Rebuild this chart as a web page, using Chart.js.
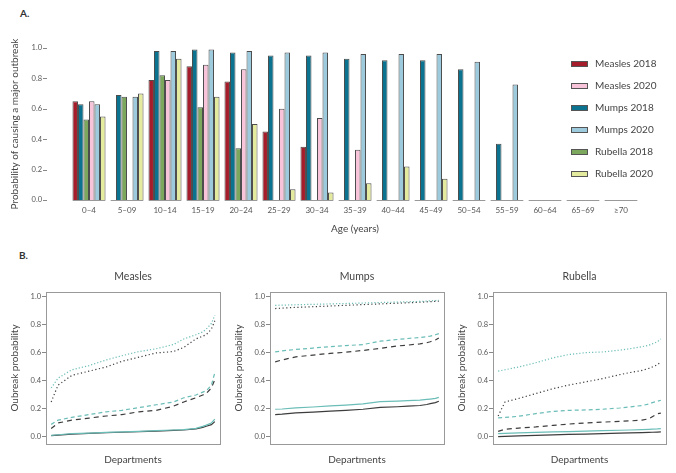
<!DOCTYPE html>
<html>
<head>
<meta charset="utf-8">
<script src="https://cdn.jsdelivr.net/npm/chart.js@4.4.1/dist/chart.umd.min.js"></script>
<style>
  body { margin: 0; background: #fff; width: 676px; height: 473px; position: relative; overflow: hidden; font-family: Lato, sans-serif; }
  .panel { position: absolute; }
  .tag { position: absolute; font: bold 10px Lato, sans-serif; color: #333; }
</style>
</head>
<body>
<div class="tag" style="left:20px;top:7px">A.</div>
<div class="tag" style="left:19px;top:249px">B.</div>
<canvas class="panel" id="age-chart" width="676" height="240" style="left:0;top:0"></canvas>
<canvas class="panel" id="measles-chart" width="230" height="223" style="left:0;top:250px"></canvas>
<canvas class="panel" id="mumps-chart" width="230" height="223" style="left:224px;top:250px"></canvas>
<canvas class="panel" id="rubella-chart" width="229" height="223" style="left:447px;top:250px"></canvas>
<script>
// ---- panel A: probability by age group ----
const ageGroups = ['0–4','5–09','10–14','15–19','20–24','25–29','30–34','35–39','40–44','45–49','50–54','55–59','60–64','65–69','≥70'];
const measles2018 = [0.65, 0, 0.79, 0.88, 0.78, 0.45, 0.35, 0, 0, 0, 0, 0, 0, 0, 0];
const mumps2018   = [0.63, 0.69, 0.98, 0.99, 0.97, 0.95, 0.95, 0.93, 0.92, 0.92, 0.86, 0.37, 0, 0, 0];
const rubella2018 = [0.53, 0.68, 0.82, 0.61, 0.34, 0, 0, 0, 0, 0, 0, 0, 0, 0, 0];
const measles2020 = [0.65, 0, 0.79, 0.89, 0.86, 0.60, 0.54, 0.33, 0, 0, 0, 0, 0, 0, 0];
const mumps2020   = [0.63, 0.68, 0.98, 0.99, 0.98, 0.97, 0.97, 0.96, 0.96, 0.96, 0.91, 0.76, 0, 0, 0];
const rubella2020 = [0.55, 0.70, 0.93, 0.68, 0.50, 0.07, 0.05, 0.11, 0.22, 0.14, 0, 0, 0, 0, 0];
const probTicks = [0, 0.2, 0.4, 0.6, 0.8, 1.0];

// ---- panel B: departments sorted by outbreak probability ----
const deptRank = [1, 5, 13, 23, 33, 42, 52, 62, 72, 78, 85, 89, 91, 94, 96];

const measlesTealDot  = [0.35, 0.42, 0.48, 0.51, 0.55, 0.58, 0.61, 0.63, 0.66, 0.70, 0.73, 0.75, 0.77, 0.81, 0.87];
const measlesDarkDot  = [0.25, 0.37, 0.44, 0.47, 0.50, 0.54, 0.57, 0.60, 0.61, 0.64, 0.70, 0.72, 0.73, 0.77, 0.83];
const measlesTealDash = [0.09, 0.12, 0.14, 0.16, 0.18, 0.19, 0.21, 0.23, 0.25, 0.28, 0.30, 0.32, 0.33, 0.37, 0.46];
const measlesDarkDash = [0.06, 0.10, 0.12, 0.135, 0.15, 0.16, 0.18, 0.19, 0.22, 0.25, 0.28, 0.30, 0.31, 0.35, 0.41];
const measlesTeal     = [0.012, 0.016, 0.024, 0.028, 0.033, 0.036, 0.04, 0.045, 0.05, 0.053, 0.062, 0.076, 0.085, 0.10, 0.128];
const measlesDark     = [0.01, 0.014, 0.021, 0.026, 0.031, 0.034, 0.038, 0.042, 0.047, 0.05, 0.058, 0.069, 0.077, 0.088, 0.11];

const mumpsTealDot  = [0.94, 0.941, 0.944, 0.947, 0.95, 0.953, 0.956, 0.96, 0.963, 0.965, 0.968, 0.97, 0.972, 0.974, 0.976];
const mumpsDarkDot  = [0.917, 0.92, 0.925, 0.93, 0.935, 0.94, 0.945, 0.95, 0.955, 0.958, 0.962, 0.965, 0.966, 0.968, 0.97];
const mumpsTealDash = [0.607, 0.615, 0.625, 0.635, 0.645, 0.652, 0.66, 0.684, 0.696, 0.703, 0.71, 0.716, 0.72, 0.73, 0.738];
const mumpsDarkDash = [0.536, 0.55, 0.572, 0.585, 0.597, 0.605, 0.618, 0.632, 0.65, 0.656, 0.665, 0.673, 0.68, 0.692, 0.707];
const mumpsTeal     = [0.198, 0.20, 0.208, 0.214, 0.222, 0.228, 0.236, 0.252, 0.256, 0.259, 0.263, 0.268, 0.271, 0.276, 0.283];
const mumpsDark     = [0.16, 0.163, 0.172, 0.178, 0.184, 0.19, 0.198, 0.212, 0.216, 0.22, 0.225, 0.232, 0.238, 0.245, 0.255];

const rubellaTealDot  = [0.47, 0.48, 0.50, 0.53, 0.565, 0.588, 0.602, 0.607, 0.62, 0.63, 0.645, 0.655, 0.665, 0.68, 0.70];
const rubellaDarkDot  = [0.15, 0.25, 0.275, 0.31, 0.345, 0.37, 0.393, 0.417, 0.445, 0.46, 0.475, 0.49, 0.50, 0.515, 0.536];
const rubellaTealDash = [0.136, 0.14, 0.148, 0.167, 0.183, 0.19, 0.193, 0.198, 0.207, 0.215, 0.225, 0.235, 0.245, 0.255, 0.262];
const rubellaDarkDash = [0.04, 0.055, 0.064, 0.072, 0.083, 0.092, 0.10, 0.106, 0.112, 0.115, 0.12, 0.13, 0.145, 0.167, 0.17];
const rubellaTeal     = [0.024, 0.026, 0.03, 0.033, 0.036, 0.039, 0.042, 0.045, 0.048, 0.05, 0.053, 0.055, 0.056, 0.058, 0.06];
const rubellaDark     = [0.003, 0.005, 0.008, 0.012, 0.015, 0.018, 0.021, 0.024, 0.027, 0.029, 0.031, 0.033, 0.034, 0.035, 0.036];

const textCol = '#555';
const tealCol = '#6bbdb7';
const darkCol = '#3d3d3d';
const fmt = v => Number(v).toFixed(1);

// short baseline under each age group instead of one long x axis
const groupBaselines = {
    id: 'groupBaselines',
    beforeDatasetsDraw(chart) {
        const {ctx, scales: {x, y}} = chart;
        const half = (x.right - x.left) / x.ticks.length * 0.43;
        const yy = Math.round(y.getPixelForValue(0)) + 0.5;
        ctx.save();
        ctx.strokeStyle = '#999';
        ctx.lineWidth = 1;
        x.ticks.forEach((t, i) => {
            const cx = x.getPixelForValue(i);
            ctx.beginPath();
            ctx.moveTo(cx - half, yy);
            ctx.lineTo(cx + half, yy);
            ctx.stroke();
        });
        ctx.restore();
    }
};

// little tick marks just right of the y labels
const yTickMarks = {
    id: 'yTickMarks',
    afterDraw(chart) {
        const {ctx, scales: {y}, chartArea} = chart;
        const x0 = chartArea.left - 27;
        ctx.save();
        ctx.strokeStyle = '#888';
        ctx.lineWidth = 1;
        y.ticks.forEach(t => {
            const yy = Math.round(y.getPixelForValue(t.value)) + 0.5;
            ctx.beginPath();
            ctx.moveTo(x0, yy);
            ctx.lineTo(x0 + 4, yy);
            ctx.stroke();
        });
        ctx.restore();
    }
};

const legendOrder = [0, 3, 1, 4, 2, 5];
const insideLegend = {
    id: 'insideLegend',
    afterDraw(chart) {
        const {ctx} = chart;
        ctx.save();
        ctx.font = '10px Lato, sans-serif';
        ctx.textBaseline = 'middle';
        legendOrder.forEach((di, row) => {
            const ds = chart.data.datasets[di];
            const yy = 64 + row * 22;
            ctx.fillStyle = ds.backgroundColor;
            ctx.fillRect(571.5, yy - 2.5, 16, 5);
            ctx.strokeStyle = '#555';
            ctx.lineWidth = 1;
            ctx.strokeRect(571.5, yy - 2.5, 16, 5);
            ctx.fillStyle = '#444';
            ctx.fillText(ds.label, 595, yy);
        });
        ctx.restore();
    }
};

function barSet(label, data, color) {
    return { label, data, backgroundColor: color, borderColor: '#4d4d4d', borderWidth: 1 };
}

new Chart(document.getElementById('age-chart'), {
    type: 'bar',
    data: {
        labels: ageGroups,
        datasets: [
            barSet('Measles 2018', measles2018, '#a51d2b'),
            barSet('Mumps 2018', mumps2018, '#0b7290'),
            barSet('Rubella 2018', rubella2018, '#7ba85c'),
            barSet('Measles 2020', measles2020, '#f7c4d9'),
            barSet('Mumps 2020', mumps2020, '#9ecadd'),
            barSet('Rubella 2020', rubella2020, '#e4eb9f'),
        ]
    },
    options: {
        responsive: false,
        animation: false,
        layout: { padding: { top: 48, right: 36, left: 0, bottom: 0 } },
        datasets: { bar: { categoryPercentage: 0.87, barPercentage: 1 } },
        plugins: { legend: { display: false }, tooltip: { enabled: false } },
        scales: {
            x: {
                grid: { display: false, drawTicks: false },
                border: { display: false },
                ticks: { color: textCol, font: { size: 8, family: 'Lato' }, padding: 6, maxRotation: 0, autoSkip: false },
                title: { display: true, text: 'Age (years)', color: '#444', font: { size: 10, family: 'Lato' }, padding: { top: 0, bottom: 5 } },
                afterFit(s) { s.height = 40; }
            },
            y: {
                min: 0, max: 1,
                grid: { display: false, drawTicks: false },
                border: { display: false },
                afterBuildTicks(s) { s.ticks = probTicks.map(v => ({ value: v })); },
                ticks: { color: textCol, font: { size: 7.5, family: 'Lato' }, padding: 28, callback: fmt },
                title: { display: true, text: 'Probability of causing a major outbreak', color: '#444', font: { size: 10, family: 'Lato' }, padding: { top: 9, bottom: 0 } },
                afterFit(s) { s.width = 70; }
            }
        }
    },
    plugins: [groupBaselines, yTickMarks, insideLegend]
});

// ---- panel B ----
const frameBox = {
    id: 'frameBox',
    afterDraw(chart) {
        const {ctx, chartArea: a} = chart;
        ctx.save();
        ctx.strokeStyle = '#999';
        ctx.lineWidth = 1;
        ctx.strokeRect(Math.round(a.left) + 0.5, Math.round(a.top) + 0.5, Math.round(a.right - a.left), Math.round(a.bottom - a.top));
        ctx.restore();
    }
};

const panelTitle = {
    id: 'panelTitle',
    afterDraw(chart, args, opts) {
        const {ctx, chartArea: a} = chart;
        ctx.save();
        ctx.font = '10.5px Lato, sans-serif';
        ctx.fillStyle = '#444';
        ctx.textAlign = 'center';
        ctx.textBaseline = 'middle';
        ctx.fillText(opts.text, (a.left + a.right) / 2, a.top - 15);
        ctx.restore();
    }
};

function lineSet(label, values, color, dash) {
    return {
        label,
        data: deptRank.map((d, i) => ({ x: d, y: values[i] })),
        borderColor: color,
        borderWidth: 1.2,
        borderDash: dash,
        pointRadius: 0,
        fill: false,
        tension: 0
    };
}

function deptPanel(id, title, series) {
    new Chart(document.getElementById(id), {
        type: 'line',
        data: {
            datasets: [
                lineSet('2020 high', series[0], tealCol, [1.2, 2]),
                lineSet('2018 high', series[1], darkCol, [1.2, 2.5]),
                lineSet('2020 mid', series[2], tealCol, [4, 3]),
                lineSet('2018 mid', series[3], darkCol, [5, 4]),
                lineSet('2020 low', series[4], tealCol, []),
                lineSet('2018 low', series[5], darkCol, []),
            ]
        },
        options: {
            responsive: false,
            animation: false,
            layout: { padding: { top: 42, right: 10, left: 0, bottom: 0 } },
            plugins: { legend: { display: false }, tooltip: { enabled: false }, panelTitle: { text: title } },
            scales: {
                x: {
                    type: 'linear', min: -2, max: 99,
                    grid: { display: false },
                    border: { display: false },
                    ticks: { display: false },
                    title: { display: true, text: 'Departments', color: '#444', font: { size: 10, family: 'Lato' }, padding: { top: 0, bottom: 7 } },
                    afterFit(s) { s.height = 29; }
                },
                y: {
                    min: -0.05, max: 1.035,
                    grid: { drawOnChartArea: false, drawTicks: true, tickLength: 4, color: '#888' },
                    border: { display: false },
                    afterBuildTicks(s) { s.ticks = probTicks.map(v => ({ value: v })); },
                    ticks: { color: textCol, font: { size: 7.5, family: 'Lato' }, padding: 1, callback: fmt },
                    title: { display: true, text: 'Oubreak probability', color: '#444', font: { size: 10, family: 'Lato' }, padding: { top: 9, bottom: 0 } },
                    afterFit(s) { s.width = 46; }
                }
            }
        },
        plugins: [frameBox, panelTitle]
    });
}

deptPanel('measles-chart', 'Measles', [measlesTealDot, measlesDarkDot, measlesTealDash, measlesDarkDash, measlesTeal, measlesDark]);
deptPanel('mumps-chart', 'Mumps', [mumpsTealDot, mumpsDarkDot, mumpsTealDash, mumpsDarkDash, mumpsTeal, mumpsDark]);
deptPanel('rubella-chart', 'Rubella', [rubellaTealDot, rubellaDarkDot, rubellaTealDash, rubellaDarkDash, rubellaTeal, rubellaDark]);
</script>
</body>
</html>
